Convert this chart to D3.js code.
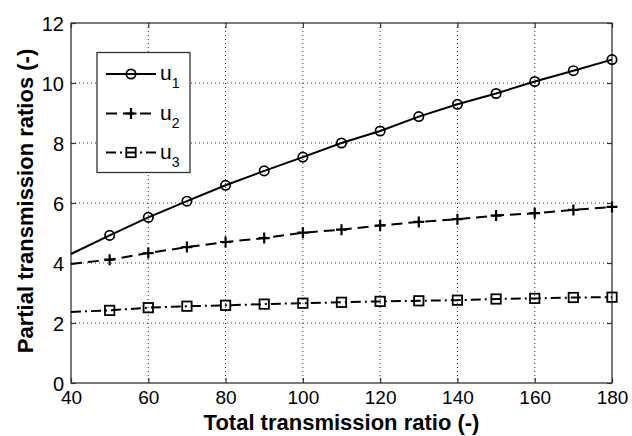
<!DOCTYPE html>
<html>
<head>
<meta charset="utf-8">
<script src="https://cdn.jsdelivr.net/npm/d3@7"></script>
<style>
  html, body { margin: 0; padding: 0; background: #fff; }
  svg { display: block; }
  text { font-family: "Liberation Sans", Arial, Helvetica, sans-serif; fill: #000; }
</style>
</head>
<body>
<svg id="chart" width="632" height="436"></svg>
<script>
// ---- data ----
const xValues = [40, 50, 60, 70, 80, 90, 100, 110, 120, 130, 140, 150, 160, 170, 180];
const u1 = [4.30, 4.92, 5.52, 6.06, 6.59, 7.07, 7.53, 8.00, 8.40, 8.88, 9.29, 9.65, 10.05, 10.41, 10.78];
const u2 = [3.97, 4.11, 4.33, 4.53, 4.70, 4.83, 5.01, 5.11, 5.25, 5.37, 5.46, 5.58, 5.66, 5.77, 5.87];
const u3 = [2.37, 2.42, 2.51, 2.56, 2.59, 2.63, 2.66, 2.69, 2.72, 2.74, 2.76, 2.80, 2.82, 2.85, 2.86];
const seriesNames = ["1", "2", "3"];
const xTicks = [40, 60, 80, 100, 120, 140, 160, 180];
const yTicks = [0, 2, 4, 6, 8, 10, 12];
const xTitle = "Total transmission ratio (-)";
const yTitle = "Partial transmission ratios (-)";

// ---- layout ----
const L = 71, R = 612, T = 23, B = 383;
const svg = d3.select("#chart");
const x = d3.scaleLinear().domain([40, 180]).range([L, R]);
const y = d3.scaleLinear().domain([0, 12]).range([B, T]);

// grid
const grid = svg.append("g").attr("stroke", "#333").attr("stroke-width", 1).attr("stroke-dasharray", "1,3");
xTicks.slice(1, -1).forEach(v => {
  grid.append("line").attr("x1", x(v)).attr("x2", x(v)).attr("y1", T).attr("y2", B);
});
yTicks.slice(1, -1).forEach(v => {
  grid.append("line").attr("x1", L).attr("x2", R).attr("y1", y(v)).attr("y2", y(v));
});

// axes (inner ticks, box)
const tickLen = 5;
const gx = svg.append("g").attr("transform", `translate(0,${B})`)
  .call(d3.axisBottom(x).tickValues(xTicks).tickSizeInner(-tickLen).tickSizeOuter(0).tickPadding(8));
const gxTop = svg.append("g").attr("transform", `translate(0,${T})`)
  .call(d3.axisTop(x).tickValues(xTicks).tickSizeInner(-tickLen).tickSizeOuter(0).tickFormat(""));
const gy = svg.append("g").attr("transform", `translate(${L},0)`)
  .call(d3.axisLeft(y).tickValues(yTicks).tickSizeInner(-tickLen).tickSizeOuter(0).tickPadding(7));
const gyRight = svg.append("g").attr("transform", `translate(${R},0)`)
  .call(d3.axisRight(y).tickValues(yTicks).tickSizeInner(-tickLen).tickSizeOuter(0).tickFormat(""));
[gx, gxTop, gy, gyRight].forEach(g => {
  g.select(".domain").remove();
  g.selectAll(".tick line").attr("stroke", "#333").attr("stroke-width", 1.2);
  g.selectAll("text").attr("font-size", 20).attr("font-family", '"Liberation Sans", Arial, sans-serif').attr("fill", "#000");
});
gx.selectAll("text").attr("font-size", 19).attr("dy", "0.71em");
gy.selectAll("text").attr("dy", "0.35em");

svg.append("rect").attr("x", L).attr("y", T).attr("width", R - L).attr("height", B - T)
  .attr("fill", "none").attr("stroke", "#333").attr("stroke-width", 1.3);

// axis titles
svg.append("text").attr("x", (L + R) / 2).attr("y", 430).attr("text-anchor", "middle")
  .attr("font-size", 22).attr("font-weight", "bold").text(xTitle);
svg.append("text").attr("transform", `translate(33,${(T + B) / 2 - 2}) rotate(-90)`).attr("text-anchor", "middle")
  .attr("font-size", 22).attr("font-weight", "bold").text(yTitle);

// series
const styles = [
  { data: u1, dash: null, marker: "circle" },
  { data: u2, dash: "11,6", marker: "plus" },
  { data: u3, dash: "10,4,2,4", marker: "square" }
];
const line = d3.line().x(d => x(d[0])).y(d => y(d[1]));

function drawMarker(g, type, cx, cy) {
  if (type === "circle") {
    g.append("circle").attr("cx", cx).attr("cy", cy).attr("r", 4.7)
      .attr("fill", "none").attr("stroke", "#000").attr("stroke-width", 1.7);
  } else if (type === "plus") {
    g.append("path").attr("d", `M${cx - 5.5},${cy}H${cx + 5.5}M${cx},${cy - 5.5}V${cy + 5.5}`)
      .attr("stroke", "#000").attr("stroke-width", 2.2).attr("fill", "none");
  } else {
    g.append("rect").attr("x", cx - 4.7).attr("y", cy - 4.7).attr("width", 9.4).attr("height", 9.4)
      .attr("fill", "none").attr("stroke", "#000").attr("stroke-width", 1.8);
  }
}

styles.forEach(s => {
  const pts = xValues.map((v, i) => [v, s.data[i]]);
  svg.append("path").attr("d", line(pts)).attr("fill", "none").attr("stroke", "#000")
    .attr("stroke-width", 2).attr("stroke-dasharray", s.dash);
  const mg = svg.append("g");
  pts.slice(1).forEach(p => drawMarker(mg, s.marker, x(p[0]), y(p[1])));
});

// legend
const lg = svg.append("g");
lg.append("rect").attr("x", 97).attr("y", 52.5).attr("width", 93).attr("height", 120)
  .attr("fill", "#fff").attr("stroke", "#333").attr("stroke-width", 1.3);
const legendY = [74, 113.5, 152.5];
styles.forEach((s, i) => {
  const ly = legendY[i];
  lg.append("line").attr("x1", 106).attr("x2", 156).attr("y1", ly).attr("y2", ly)
    .attr("stroke", "#000").attr("stroke-width", 2).attr("stroke-dasharray", s.dash);
  drawMarker(lg, s.marker, 131, ly);
  const t = lg.append("text").attr("x", 160).attr("y", ly + 6).attr("font-size", 21);
  t.append("tspan").text("u");
  t.append("tspan").attr("dy", 8).attr("font-size", 14).text(seriesNames[i]);
});
</script>
</body>
</html>
